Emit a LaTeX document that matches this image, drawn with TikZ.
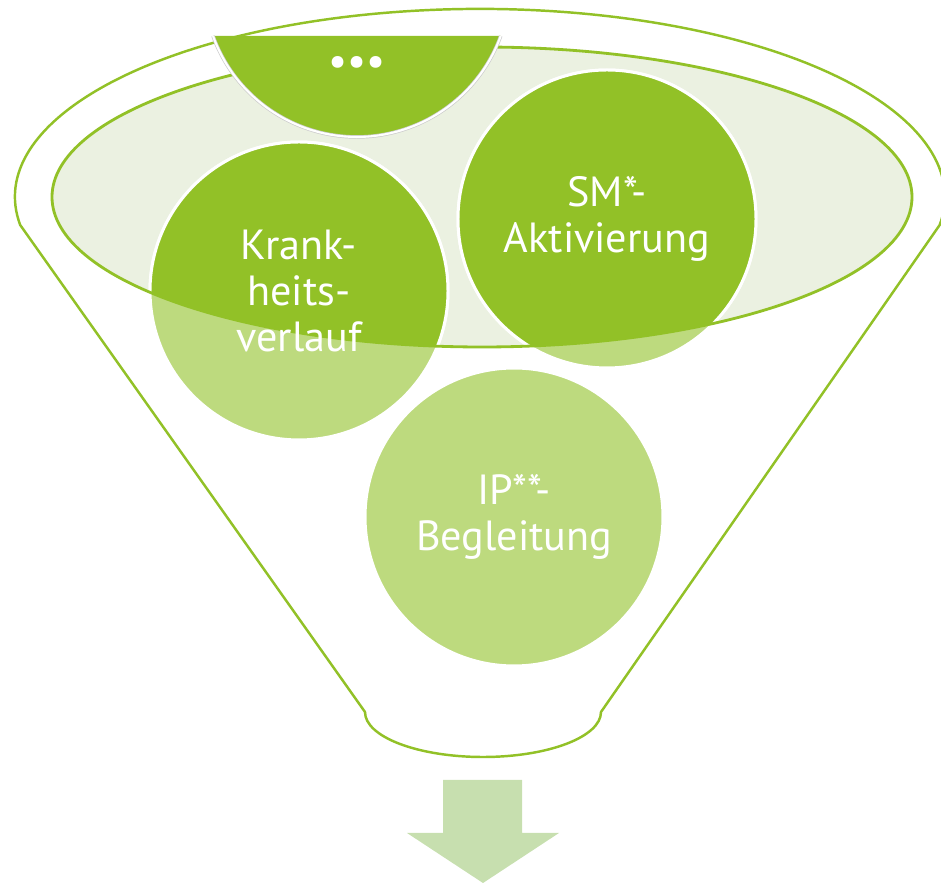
\documentclass[tikz,border=0pt]{standalone}
\usepackage{fontspec}
\setmainfont{PT Sans}

\definecolor{leaf}{RGB}{146,193,39}
\definecolor{paleleaf}{RGB}{189,218,126}
\definecolor{mist}{RGB}{235,241,225}
\definecolor{sprout}{RGB}{199,223,175}

\begin{document}
\begin{tikzpicture}[x=.02cm, y=-.02cm, line join=round,
	bubble/.style={circle, minimum size=5.96cm, inner sep=0pt, fill=paleleaf, draw=white, line width=1.7pt},
	caption/.style={text=white, align=center, font=\fontsize{24}{26}\selectfont}]
	\useasboundingbox (0,0) rectangle (941,884);

	% funnel
	\draw[leaf, line width=1.4pt, fill=white] (20.2,225)
		arc[start angle=171.4, end angle=368.6, x radius=465, y radius=188]
		-- (601,712) arc[start angle=0, end angle=180, x radius=118, y radius=45] -- cycle;
	\fill[mist] (482,197) ellipse [x radius=430, y radius=150];

	% circles
	\node[bubble] (krank) at (299,291) {};
	\node[bubble] (sm) at (607,219) {};
	\node[bubble] (ip) at (514,517) {};

	% inside the rim
	\begin{scope}
		\clip (482,197) ellipse [x radius=430, y radius=150];
		\foreach \name in {krank, sm} {
			\fill[leaf, draw=white, line width=1.7pt] (\name.center) circle [radius=149];
		}
	\end{scope}
	\draw[leaf, line width=1.6pt] (482,197) ellipse [x radius=430, y radius=150];

	% labels
	\node[caption] (kranktext) at (krank.center) {Krank-\\heits-\\verlauf};
	\node[caption] (smtext) at (sm.center) {SM*-\\Aktivierung};
	\node[caption] (iptext) at (ip.center) {IP**-\\Begleitung};

	% more
	\fill[leaf] (213,36) arc[start angle=160.1, end angle=19.9, radius=153] -- cycle;
	\draw[gray!40, double=white, double distance=1.2pt, line width=.4pt] (213,36) arc[start angle=160.1, end angle=19.9, radius=153];
	\node[caption] (dots) at (357,66) {•••};

	% arrow
	\fill[sprout] (443,780) -- (522,780) -- (522,833) -- (559,833) -- (483,883) -- (407,833) -- (443,833) -- cycle;
\end{tikzpicture}
\end{document}
